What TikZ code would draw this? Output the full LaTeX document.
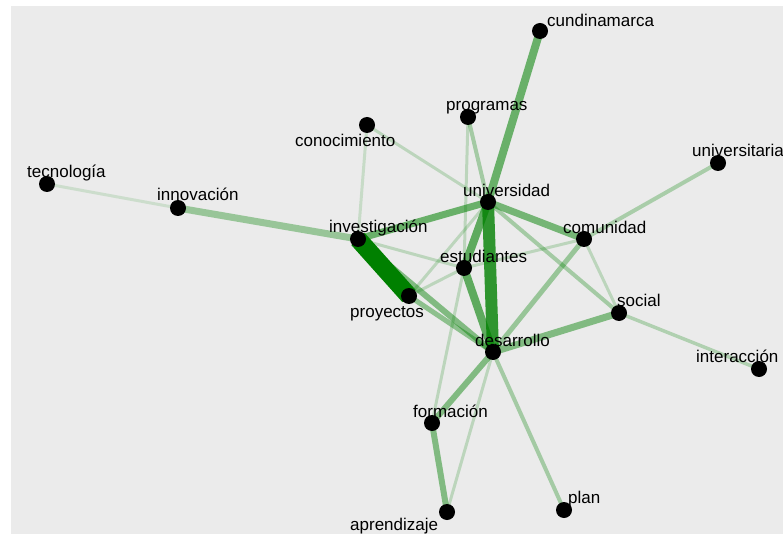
\documentclass[tikz,border=0pt]{standalone}
\usepackage{fontspec}
\setmainfont{Liberation Sans}
\definecolor{bggray}{HTML}{EBEBEB}
\definecolor{edgegreen}{RGB}{0,128,0}
\pgfdeclarelayer{edges}
\pgfsetlayers{edges,main}
\begin{document}
\begin{tikzpicture}[x=1pt,y=-1pt,
  dot/.style={circle,fill=black,inner sep=0pt,minimum size=16pt},
  lbl/.style={anchor=base west,inner sep=0pt,text=black,font=\fontsize{17}{20}\selectfont},
  e/.style 2 args={line width=#1pt,draw=edgegreen,draw opacity=#2,line cap=butt}]
\useasboundingbox (0,0) rectangle (783,534);
% nodes (dots)
\node[dot] (cund) at (540,31) {};
\node[dot] (prog) at (468,117) {};
\node[dot] (cono) at (367,125) {};
\node[dot] (tecn) at (47,184) {};
\node[dot] (inno) at (178,208) {};
\node[dot] (inve) at (358,239) {};
\node[dot] (univ) at (488,202) {};
\node[dot] (unia) at (718,163) {};
\node[dot] (comu) at (584,239) {};
\node[dot] (estu) at (464,268) {};
\node[dot] (proy) at (409,296) {};
\node[dot] (soci) at (619,313) {};
\node[dot] (desa) at (493,352) {};
\node[dot] (inte) at (759,369) {};
\node[dot] (form) at (432,423) {};
\node[dot] (apre) at (447,512) {};
\node[dot] (plan) at (564,510) {};
% background and edges, behind the dots
\begin{pgfonlayer}{edges}
\fill[bggray] (11,6) rectangle (783,534);
\draw[e={3}{0.13}] (tecn.center) -- (inno.center);
\draw[e={3}{0.15}] (cono.center) -- (inve.center);
\draw[e={3}{0.2}] (cono.center) -- (univ.center);
\draw[e={3}{0.2}] (prog.center) -- (estu.center);
\draw[e={3}{0.2}] (inve.center) -- (estu.center);
\draw[e={3}{0.2}] (proy.center) -- (estu.center);
\draw[e={3}{0.2}] (proy.center) -- (univ.center);
\draw[e={3}{0.2}] (estu.center) -- (comu.center);
\draw[e={3}{0.2}] (comu.center) -- (soci.center);
\draw[e={3}{0.2}] (form.center) -- (estu.center);
\draw[e={3}{0.2}] (apre.center) -- (desa.center);
\draw[e={3.5}{0.25}] (soci.center) -- (inte.center);
\draw[e={4}{0.3}] (desa.center) -- (plan.center);
\draw[e={4}{0.3}] (univ.center) -- (soci.center);
\draw[e={4}{0.3}] (prog.center) -- (univ.center);
\draw[e={4}{0.28}] (comu.center) -- (unia.center);
\draw[e={5}{0.35}] (comu.center) -- (desa.center);
\draw[e={5}{0.4}] (proy.center) -- (desa.center);
\draw[e={6}{0.45}] (inve.center) -- (desa.center);
\draw[e={6}{0.45}] (form.center) -- (apre.center);
\draw[e={6}{0.45}] (desa.center) -- (form.center);
\draw[e={7}{0.45}] (desa.center) -- (soci.center);
\draw[e={7}{0.35}] (inno.center) -- (inve.center);
\draw[e={7}{0.5}] (univ.center) -- (comu.center);
\draw[e={7}{0.55}] (univ.center) -- (inve.center);
\draw[e={8}{0.55}] (cund.center) -- (univ.center);
\draw[e={8}{0.6}] (estu.center) -- (desa.center);
\draw[e={8}{0.6}] (univ.center) -- (estu.center);
\draw[e={12}{0.8}] (univ.center) -- (desa.center);
\draw[e={18}{1}] (inve.center) -- (proy.center);
\end{pgfonlayer}
% labels
\node[lbl] (l-cund) at (547,27) {cundinamarca};
\node[lbl] (l-prog) at (446,111) {programas};
\node[lbl] (l-cono) at (295,147) {conocimiento};
\node[lbl] (l-tecn) at (27,178) {tecnología};
\node[lbl] (l-inno) at (157,201) {innovación};
\node[lbl] (l-inve) at (329,233) {investigación};
\node[lbl] (l-univ) at (463,197) {universidad};
\node[lbl] (l-unia) at (692,157) {universitaria};
\node[lbl] (l-comu) at (563,234) {comunidad};
\node[lbl] (l-estu) at (440,262) {estudiantes};
\node[lbl] (l-proy) at (350,317) {proyectos};
\node[lbl] (l-soci) at (617,306) {social};
\node[lbl] (l-desa) at (475,346) {desarrollo};
\node[lbl] (l-inte) at (696,362) {interacción};
\node[lbl] (l-form) at (413,417) {formación};
\node[lbl] (l-apre) at (350,530) {aprendizaje};
\node[lbl] (l-plan) at (568,503) {plan};
\end{tikzpicture}
\end{document}
